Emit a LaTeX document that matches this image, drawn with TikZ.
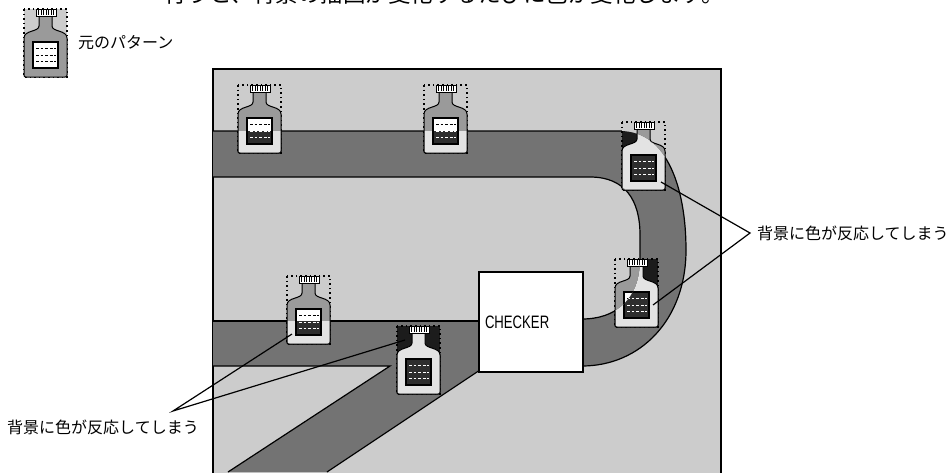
\documentclass[tikz,border=0pt]{standalone}
\usepackage{fontspec}
\setmainfont{Noto Sans CJK JP}
\newfontfamily\latinfont{Liberation Sans}
\usepackage{tikz}

\definecolor{floorgray}{HTML}{CCCCCC}
\definecolor{roadgray}{HTML}{737373}
\definecolor{bodygray}{HTML}{9A9A9A}
\definecolor{bodylight}{HTML}{E3E3E3}
\definecolor{labeldark}{HTML}{2E2E2E}
\definecolor{shadowblack}{HTML}{1C1C1C}

% bottle in a dotted 43x68 box: #1 top left corner, #2 backing, #3 body, #4 label, #5 dashes
\newcommand{\bottle}[5]{%
	\begin{scope}[shift={#1}]
		\fill[#2] (0,0) rectangle (43,68);
		\draw[dotbox] (0,0) rectangle (43,68);
		\filldraw[fill=#3, draw=black, line width=1] (15,7) -- (15,17) .. controls (15,23) and (0,21) .. (0,29) -- (0,66) .. controls (0,67.5) and (0.5,68) .. (2,68) -- (41,68) .. controls (42.5,68) and (43,67.5) .. (43,66) -- (43,29) .. controls (43,21) and (28,23) .. (28,17) -- (28,7) -- cycle;
		\filldraw[fill=white, draw=black, line width=1] (12,0.5) rectangle (32,7);
		\foreach \k in {1,...,7} \draw[line width=0.8] ({12+\k*2.5},1) -- ++(0,5);
		\filldraw[fill=#4, draw=black, line width=1.5] (9,33) rectangle (34,59);
		\foreach \r in {39.5,46,52.5} \draw[#5, line width=1, dash pattern=on 2.8 off 1.8] (12,\r) -- (31.5,\r);
	\end{scope}}

% the same bottle, turned over where it stands on the road
\newcommand{\roadbottle}[1]{%
	\bottle{#1}{floorgray}{bodygray}{white}{black}
	\begin{scope}
		\clip[roadarea];
		\bottle{#1}{shadowblack}{bodylight}{labeldark}{white}
	\end{scope}}

\begin{document}
\begin{tikzpicture}[x=1pt, y=-1pt,
	dotbox/.style={line width=1.1, dash pattern=on 1.6 off 3},
	edge/.style={line width=1.2},
	note/.style={font=\fontsize{16}{16}\selectfont},
	roadarea/.style={insert path={
		(213,131) -- (620,131) .. controls (668,131) and (686,190) .. (686,250)
		.. controls (686,320) and (640,366) .. (582,366) -- (520,366) -- (520,319) -- (582,319)
		.. controls (615,319) and (640,300) .. (640,260) -- (640,235)
		.. controls (640,200) and (625,177) .. (590,177) -- (213,177) -- cycle
		(213,321) -- (500,321) -- (500,356) -- (327,472) -- (228,472) -- (390,366) -- (213,366) -- cycle}}]

	\useasboundingbox (0,0) rectangle (949,472);
	\clip (0,0) rectangle (949,472);

	% caption line, running off the top edge
	\node[anchor=base west, inner sep=0pt, font=\fontsize{22.5}{22.5}\selectfont] (headline) at (164,2) {行うと、背景の描画が変化するたびに色が変化します。};

	% the original pattern
	\bottle{(24,9)}{floorgray}{bodygray}{white}{black}
	\node[note, anchor=west, inner sep=0pt] (original) at (78,43) {元のパターン};

	% floor and roads
	\filldraw[fill=floorgray, edge] (213,69) rectangle (721,490);
	\fill[roadgray, roadarea];
	\draw[edge] (213,131) -- (620,131) .. controls (668,131) and (686,190) .. (686,250)
		.. controls (686,320) and (640,366) .. (582,366);
	\draw[edge] (213,177) -- (590,177) .. controls (625,177) and (640,200) .. (640,235)
		-- (640,260) .. controls (640,300) and (615,319) .. (582,319);
	\draw[edge] (213,321) -- (479,321);
	\draw[edge] (213,366) -- (390,366) -- (228,472);
	\draw[edge] (480,370) -- (327,472);

	\node[draw, fill=white, edge, minimum width=104pt, minimum height=100pt, text width=92pt, inner xsep=6pt, align=left, font=\latinfont\fontsize{18}{18}\selectfont] (checker) at (531,322) {\scalebox{0.73}[1]{CHECKER}};

	% bottles on the line
	\roadbottle{(238,85)}
	\roadbottle{(424,85)}
	\roadbottle{(622,122)}
	\roadbottle{(615,259)}
	\roadbottle{(287,276)}
	\roadbottle{(397,326)}

	\coordinate (tipC) at (661,182);
	\coordinate (tipD) at (653,305);
	\coordinate (tipE) at (292,334);
	\coordinate (tipF) at (405,340);

	% notes
	\node[note, anchor=west, inner xsep=7pt, inner ysep=0pt] (rnote) at (750,233) {背景に色が反応してしまう};
	\draw[edge] (tipC) -- (rnote.west) -- (tipD);

	\node[note] (lnote) at (103,427) {背景に色が反応してしまう};
	\coordinate (lapex) at (173,411);
	\draw[edge] (tipE) -- (lapex) -- (tipF);

\end{tikzpicture}
\end{document}
